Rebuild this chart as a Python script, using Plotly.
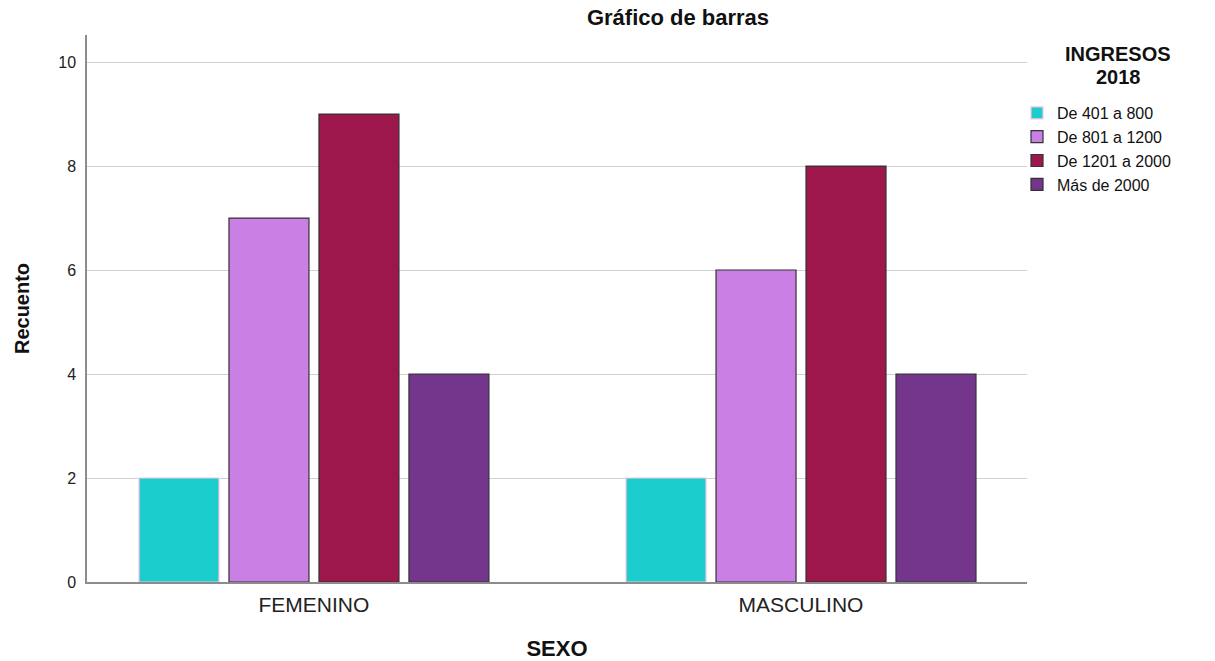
import plotly.graph_objects as go

sexo = ["FEMENINO", "MASCULINO"]
rangos = ["De 401 a 800", "De 801 a 1200", "De 1201 a 2000", "Más de 2000"]
recuento = {
    "De 401 a 800": [2, 2],
    "De 801 a 1200": [7, 6],
    "De 1201 a 2000": [9, 8],
    "Más de 2000": [4, 4],
}
colores = ["#1ccdcd", "#c97fe3", "#9d174d", "#74368c"]
bordes = ["#f5c6e4", "#333333", "#333333", "#333333"]
y_ticks = [0, 2, 4, 6, 8, 10]

FONT = "Liberation Sans, Arial, sans-serif"

# plot area in pixels
L, R, T, B = 87, 188, 35, 79
W, H = 1215, 661
plot_w, plot_h = W - L - R, H - T - B


def px_x(x):
    return (x - L) / plot_w


def px_y(y):
    return (H - B - y) / plot_h


fig = go.Figure()
for rango, color, borde in zip(rangos, colores, bordes):
    fig.add_trace(go.Bar(
        x=sexo, y=recuento[rango], name=rango,
        marker=dict(color=color, line=dict(color=borde, width=1.2)),
    ))

fig.update_layout(
    width=W, height=H,
    margin=dict(l=L, r=R, t=T, b=B, autoexpand=False),
    paper_bgcolor="white", plot_bgcolor="white",
    font=dict(family=FONT, color="#111111"),
    barmode="group", bargap=0.261, bargroupgap=0.111,
    title=dict(text="<b>Gráfico de barras</b>", x=678 / W, xanchor="center",
               y=1 - 17 / H, yanchor="middle", xref="container", yref="container",
               font=dict(size=22, family=FONT, color="#111111")),
    showlegend=True,
    legend=dict(x=px_x(1017), xanchor="left", y=px_y(96), yanchor="top",
                font=dict(size=16, family=FONT, color="#111111"),
                itemwidth=30, tracegroupgap=0, bgcolor="rgba(0,0,0,0)"),
    xaxis=dict(
        range=[-0.466, 1.464], showgrid=False, automargin=False,
        showline=True, linecolor="#8c8c8c", linewidth=1.5,
        ticks="", ticklabelstandoff=3,
        tickfont=dict(size=21, family=FONT, color="#222222"),
        title=dict(text="<b>SEXO</b>", font=dict(size=22, family=FONT, color="#111111"),
                   standoff=28),
    ),
    yaxis=dict(
        range=[0, 10.52], tickvals=y_ticks, ticktext=[str(v) for v in y_ticks],
        showgrid=True, gridcolor="#d0d0d0", gridwidth=1.2, automargin=False,
        showline=True, linecolor="#8c8c8c", linewidth=1.5,
        ticks="", ticklabelstandoff=6,
        tickfont=dict(size=16, family=FONT, color="#222222"),
        title=dict(text="<b>Recuento</b>", font=dict(size=20, family=FONT, color="#111111"),
                   standoff=23),
        zeroline=False,
    ),
    annotations=[
        dict(text="<b>INGRESOS</b>", x=px_x(1118), y=px_y(54), xref="paper", yref="paper",
             xanchor="center", yanchor="middle", showarrow=False,
             font=dict(size=20, family=FONT, color="#111111")),
        dict(text="<b>2018</b>", x=px_x(1118), y=px_y(77), xref="paper", yref="paper",
             xanchor="center", yanchor="middle", showarrow=False,
             font=dict(size=20, family=FONT, color="#111111")),
    ],
)

fig.write_html("out.html")
